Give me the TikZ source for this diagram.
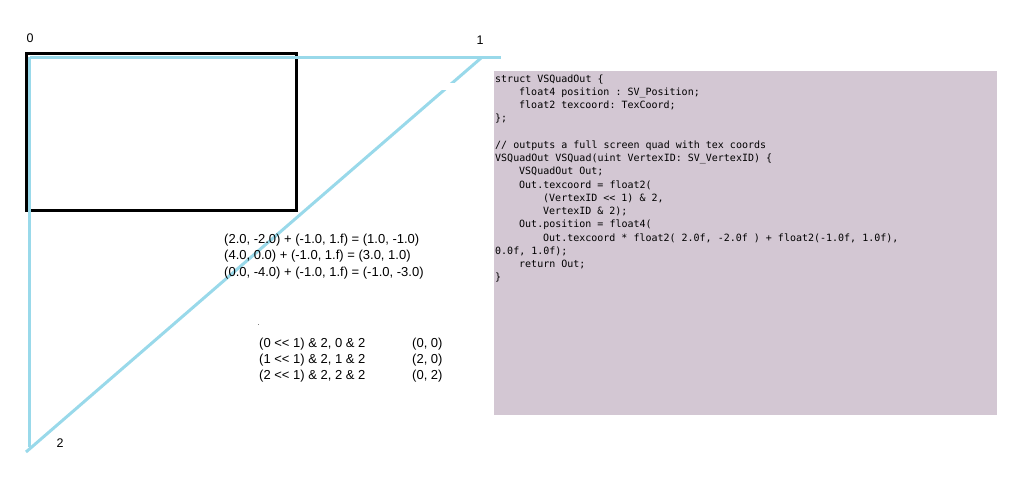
\documentclass[tikz,border=0pt]{standalone}
\usepackage{fontspec}
\setmainfont{Liberation Sans}
\setmonofont{DejaVu Sans Mono}
\definecolor{quadblue}{HTML}{99D9EA}
\definecolor{codebg}{RGB}{211,199,211}
\newcommand\labelfont{\fontsize{12.5}{14}\selectfont}
\newcommand\eqfont{\fontsize{13}{15}\selectfont}
\newcommand\codefont{\ttfamily\fontsize{10}{12}\selectfont}
\tikzset{
  quadline/.style={draw=quadblue, line width=3pt, line cap=butt, line join=miter},
  viewport/.style={draw=black, line width=3pt},
  vlabel/.style={inner sep=0pt, font=\labelfont},
  eqtext/.style={anchor=base west, inner sep=0pt, font=\eqfont},
  codeline/.style={anchor=base west, inner sep=0pt, font=\codefont},
}
\begin{document}
\begin{tikzpicture}[x=1pt, y=-1pt]
  \useasboundingbox (0,0) rectangle (1024,480);

  % viewport rectangle
  \draw[viewport] (26.5,53.5) rectangle (296.5,210);

  % oversized triangle covering the screen
  \coordinate (v0) at (29.5,57.2);
  \coordinate (v1) at (482,57.2);
  \coordinate (v2) at (26,452);
  \coordinate (hend) at (501,57.2);
  \coordinate (vend) at (29.5,447);
  \draw[quadline] (v0) -- (hend);
  \draw[quadline] (v0) -- (vend);
  \draw[quadline] (v1) -- (v2);
  % small break in the hypotenuse
  \fill[white] (436,83) rectangle (462,89.5);

  % vertex numbers
  \node[vlabel] (n0) at (30,38) {0};
  \node[vlabel] (n1) at (480,40) {1};
  \node[vlabel] (n2) at (60,443) {2};

  % position arithmetic
  \node[eqtext] (eq1) at (224,243.5) {(2.0, -2.0) + (-1.0, 1.f) = (1.0, -1.0)};
  \node[eqtext] (eq2) at (224,259.8) {(4.0, 0.0) + (-1.0, 1.f) = (3.0, 1.0)};
  \node[eqtext] (eq3) at (224,276) {(0.0, -4.0) + (-1.0, 1.f) = (-1.0, -3.0)};

  % texcoord arithmetic
  \fill[gray] (257.5,323.5) rectangle (259,324.5);
  \node[eqtext] (tc1) at (259,347) {(0 <{}< 1) \& 2, 0 \& 2};
  \node[eqtext] (tc2) at (259,363.3) {(1 <{}< 1) \& 2, 1 \& 2};
  \node[eqtext] (tc3) at (259,379.6) {(2 <{}< 1) \& 2, 2 \& 2};
  \node[eqtext] (tr1) at (412,347) {(0, 0)};
  \node[eqtext] (tr2) at (412,363.3) {(2, 0)};
  \node[eqtext] (tr3) at (412,379.6) {(0, 2)};

  % shader source
  \fill[codebg] (494,71) rectangle (997,415);
  \node[codeline] (c1)  at (495,82)    {struct VSQuadOut \{};
  \node[codeline] (c2)  at (519,95.2)  {float4 position : SV\_Position;};
  \node[codeline] (c3)  at (519,108.5) {float2 texcoord: TexCoord;};
  \node[codeline] (c4)  at (495,121.7) {\};};
  \node[codeline] (c6)  at (495,148.2) {// outputs a full screen quad with tex coords};
  \node[codeline] (c7)  at (495,161.5) {VSQuadOut VSQuad(uint VertexID: SV\_VertexID) \{};
  \node[codeline] (c8)  at (519,174.7) {VSQuadOut Out;};
  \node[codeline] (c9)  at (519,188)   {Out.texcoord = float2(};
  \node[codeline] (c10) at (543,201.2) {(VertexID <{}< 1) \& 2,};
  \node[codeline] (c11) at (543,214.5) {VertexID \& 2);};
  \node[codeline] (c12) at (519,227.7) {Out.position = float4(};
  \node[codeline] (c13) at (543,241)   {Out.texcoord * float2( 2.0f, -2.0f ) + float2(-1.0f, 1.0f),};
  \node[codeline] (c14) at (495,254.2) {0.0f, 1.0f);};
  \node[codeline] (c15) at (519,267.5) {return Out;};
  \node[codeline] (c16) at (495,280.7) {\}};
\end{tikzpicture}
\end{document}
